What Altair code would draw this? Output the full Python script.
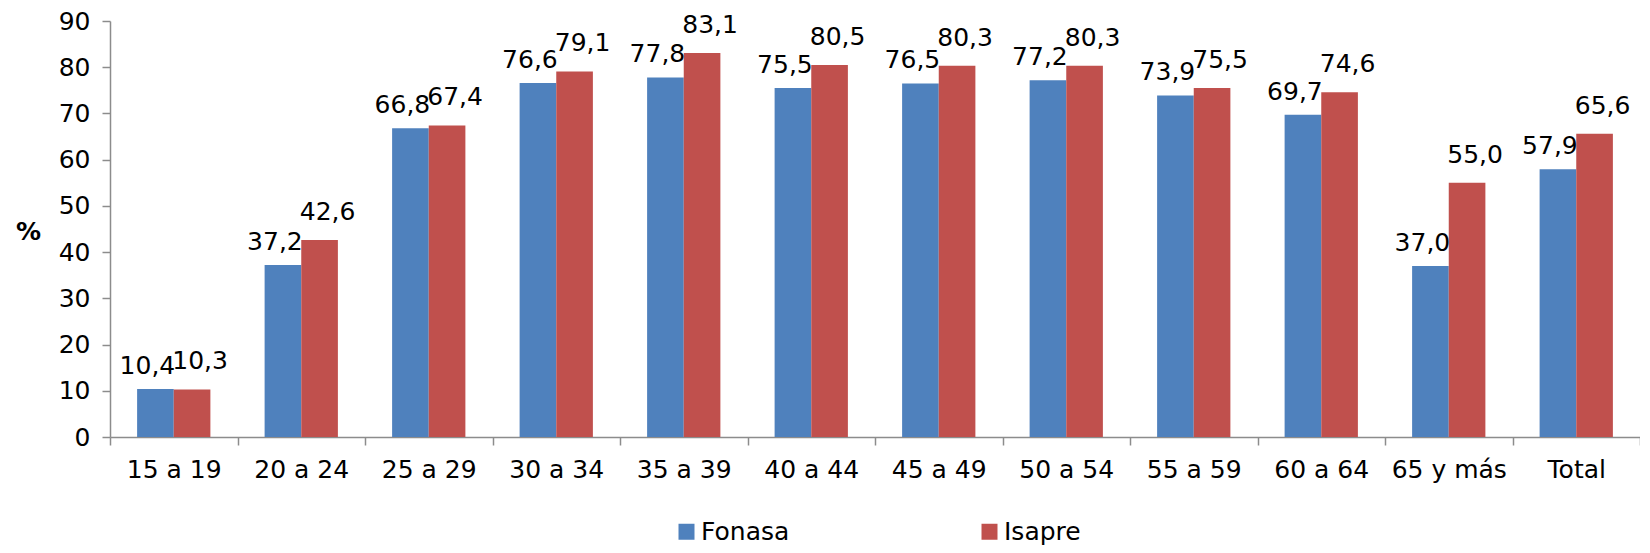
import altair as alt
import pandas as pd

categories = ["15 a 19", "20 a 24", "25 a 29", "30 a 34", "35 a 39", "40 a 44",
              "45 a 49", "50 a 54", "55 a 59", "60 a 64", "65 y más", "Total"]
fonasa = [10.4, 37.2, 66.8, 76.6, 77.8, 75.5, 76.5, 77.2, 73.9, 69.7, 37.0, 57.9]
isapre = [10.3, 42.6, 67.4, 79.1, 83.1, 80.5, 80.3, 80.3, 75.5, 74.6, 55.0, 65.6]
series = ["Fonasa", "Isapre"]
colors = ["#4F81BD", "#C0504D"]
y_ticks = [0, 10, 20, 30, 40, 50, 60, 70, 80, 90]

rows = []
for c, f, i in zip(categories, fonasa, isapre):
    rows.append({"grupo": c, "serie": "Fonasa", "valor": f})
    rows.append({"grupo": c, "serie": "Isapre", "valor": i})
df = pd.DataFrame(rows)
df["etiqueta"] = df["valor"].map(lambda v: f"{v:.1f}".replace(".", ","))

FONT = "DejaVu Sans"
FS = 25
AXC = "#8c8c8c"

x = alt.X("grupo:N", sort=categories,
          scale=alt.Scale(paddingInner=0, paddingOuter=0),
          axis=alt.Axis(title=None, labelAngle=0, tickBand="extent",
                        labelFontSize=FS, labelColor="black", labelFont=FONT,
                        labelPadding=12, tickSize=8, tickColor=AXC, domainColor=AXC,
                        tickWidth=1.5, domainWidth=1.5, labelLimit=0))
xo = alt.XOffset("serie:N", sort=series,
                 scale=alt.Scale(paddingInner=0, paddingOuter=0.74))
y = alt.Y("valor:Q", scale=alt.Scale(domain=[0, 90], nice=False),
          axis=alt.Axis(values=y_ticks, title="%", titleAngle=0, titleFontSize=FS,
                        titleFont=FONT, titleFontWeight="bold", titleColor="black",
                        titleX=-82, titleY=210, titleAlign="center",
                        titleBaseline="middle", labelFontSize=FS, labelFont=FONT,
                        labelColor="black", labelPadding=12, tickSize=8,
                        tickColor=AXC, domainColor=AXC, tickWidth=1.5,
                        domainWidth=1.5, grid=False))
color = alt.Color("serie:N", sort=series,
                  scale=alt.Scale(domain=series, range=colors),
                  legend=alt.Legend(title=None, orient="none", legendX=564, legendY=498,
                                    direction="horizontal", symbolType="square",
                                    symbolSize=256, symbolStrokeWidth=0,
                                    labelFontSize=FS, labelFont=FONT, labelOffset=2,
                                    columnPadding=187, labelColor="black", padding=0))

base = alt.Chart(df)
bars = base.mark_bar().encode(x=x, xOffset=xo, y=y, color=color)

txt_f = base.transform_filter(alt.datum.serie == "Fonasa").mark_text(
    baseline="alphabetic", dy=-15, dx=-8, fontSize=FS, font=FONT, color="black"
).encode(x=x, xOffset=xo, y=y, text="etiqueta:N")
txt_i = base.transform_filter(alt.datum.serie == "Isapre").mark_text(
    baseline="alphabetic", dy=-20, dx=8, fontSize=FS, font=FONT, color="black"
).encode(x=x, xOffset=xo, y=y, text="etiqueta:N")

chart = alt.layer(bars, txt_f, txt_i).properties(
    width=1530, height=416,
    autosize=alt.AutoSizeParams(type="none"),
    padding={"left": 102, "top": 13, "right": 0, "bottom": 108},
    background="white",
).configure_view(stroke=None)

chart.save("out.html", embed_options={"renderer": "svg", "actions": False})
